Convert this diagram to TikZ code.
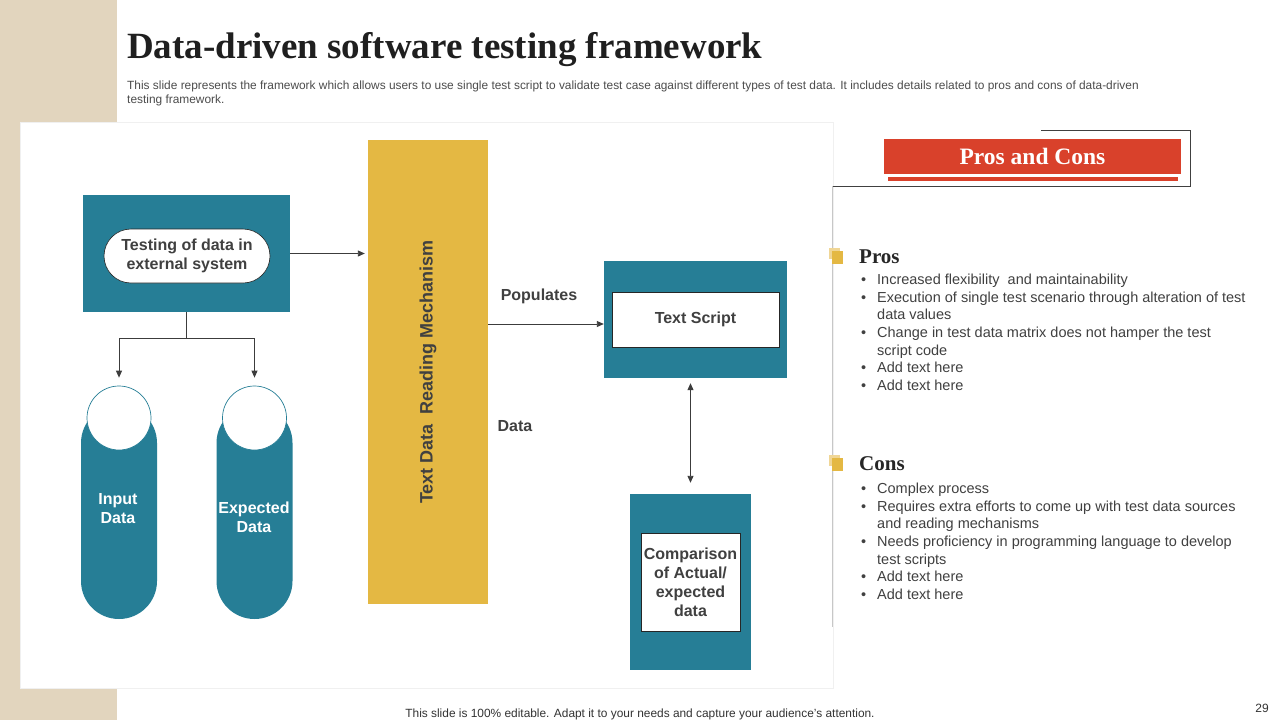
\documentclass[tikz,border=0pt]{standalone}
\usepackage{fontspec}
\setmainfont{Liberation Sans}
\newfontfamily\slideserif{Liberation Serif}
\usetikzlibrary{positioning,arrows.meta}

\definecolor{tealbox}{RGB}{38,126,150}
\definecolor{bargold}{RGB}{228,184,67}
\definecolor{iconlight}{RGB}{240,214,150}
\definecolor{redbar}{RGB}{217,65,43}
\definecolor{beige}{RGB}{226,213,190}
\definecolor{txt}{RGB}{64,64,64}
\definecolor{arr}{RGB}{60,60,60}

\newcommand\bitem[1]{\makebox[16pt][l]{\textbullet}#1}
\newcommand\bcont[1]{\hspace*{16pt}#1}

\begin{document}
\begin{tikzpicture}[x=1pt, y=-1pt,
      every node/.style={font=\fontsize{16}{19}\selectfont\bfseries, text=txt, align=center},
      tbox/.style={fill=tealbox, inner sep=0pt},
      wbox/.style={draw=black!85, fill=white, inner sep=0pt, line width=0.6pt},
      pill/.style={wbox, rounded corners=27pt},
      tpill/.style={fill=tealbox, inner sep=0pt, rounded corners=38pt,
                    minimum width=76, minimum height=214},
      datacap/.style={circle, draw=tealbox, fill=white, line width=0.7pt, minimum size=64, inner sep=0pt},
      arrow/.style={-{Triangle[length=7pt,width=6pt]}, draw=arr, line width=0.9pt},
      dblarrow/.style={{Triangle[length=7pt,width=6pt]}-{Triangle[length=7pt,width=6pt]}, draw=arr, line width=0.9pt},
      heading/.style={font=\slideserif\fontsize{21}{24}\selectfont\bfseries, text=black!85, anchor=west, inner sep=0pt},
      bullets/.style={font=\fontsize{14.5}{17.6}\selectfont, text=txt, align=left, anchor=north west, inner sep=0pt},
      smalltxt/.style={font=\fontsize{11.9}{14}\selectfont, text=black!70, align=left, inner sep=0pt},
  ]
    \useasboundingbox (0,0) rectangle (1280,720);
    \fill[white] (0,0) rectangle (1280,720);

    % Slide background
    \fill[beige] (0,0) rectangle (117,720);
    \filldraw[fill=white, draw=black!6] (20,122) rectangle (833,688);

    % Title and note
    \node[font=\slideserif\fontsize{37}{42}\selectfont\bfseries, text=black!88, anchor=west, inner sep=0pt]
      (title) at (127,50) {Data-driven software testing framework};
    \node[smalltxt, anchor=north west] (intro) at (127,81)
      {This slide represents the framework which allows users to use single test script to validate test case against different types of test data. It includes details related to pros and cons of data-driven\\testing framework.};

    % Column 1: external system and data
    \node[tbox, minimum width=207, minimum height=117] (extbox) at (186.5,253.5) {};
    \node[pill, minimum width=166, minimum height=54] (ext) at (187,256) {Testing of data in\\external system};

    \node[tpill] (inpill) at (119,512) {};
    \node[datacap] (incap) at (119,418) {};
    \node[text=white] (inlbl) at (118,509) {Input\\Data};

    \node[tpill] (exppill) at (254.5,512) {};
    \node[datacap] (expcap) at (254.5,418) {};
    \node[text=white] (explbl) at (254,517) {Expected\\Data};

    \draw[arr, line width=0.9pt] (extbox.south) -- ++(0,26) coordinate (split);
    \draw[arrow, shorten >=8pt] (split) -| (incap.north);
    \draw[arrow, shorten >=8pt] (split) -| (expcap.north);

    % Column 2: reading mechanism
    \node[fill=bargold, inner sep=0pt, minimum width=120, minimum height=464] (tdr) at (428,372) {};
    \node[rotate=90, font=\fontsize{18}{21}\selectfont\bfseries] (tdrlbl) at (tdr) {Text Data\ \ Reading Mechanism};
    \draw[arrow, shorten >=3pt] (extbox.east) -- (extbox.east -| tdr.west);

    \node (poplbl) at (539,296) {Populates};
    \node (datalbl) at (515,426) {Data};

    % Column 3: script and comparison
    \node[tbox, minimum width=183, minimum height=117] (scriptbox) at (695.5,319.5) {};
    \node[wbox, minimum width=167, minimum height=55] (script) at (695.5,319.5) {Text Script};
    \draw[arrow] (tdr.east |- 0,324) -- (scriptbox.west |- 0,324);

    \node[tbox, minimum width=121, minimum height=176] (cmpbox) at (690.5,582) {};
    \node[wbox, minimum width=99, minimum height=98] (cmp) at (690.5,582) {Comparison\\of Actual/\\expected\\data};
    \draw[dblarrow, shorten <=5pt, shorten >=11pt] (cmpbox.north |- scriptbox.south) -- (cmpbox.north);

    % Pros and cons
    \draw[black!75, line width=0.8pt] (1041,130) -| (1190,186) -- (832,186);
    \draw[black!22, line width=0.8pt] (832,186) -- (832,627);
    \node[fill=redbar, inner sep=0pt, minimum width=297, minimum height=35, text=white,
          font=\slideserif\fontsize{23.5}{26}\selectfont\bfseries] (hdr) at (1032.5,156.5) {Pros and Cons};
    \node[fill=redbar, inner sep=0pt, minimum width=290, minimum height=4, below=3pt of hdr] (hdrline) {};

    \fill[iconlight] (829,248) rectangle (840,259);
    \fill[bargold] (832,251) rectangle (843,264);
    \node[heading] (pros) at (859,257) {Pros};
    \node[bullets] (proslist) at (861,274) {%
      \bitem{Increased flexibility \ and maintainability}\\
      \bitem{Execution of single test scenario through alteration of test}\\
      \bcont{data values}\\
      \bitem{Change in test data matrix does not hamper the test}\\
      \bcont{script code}\\
      \bitem{Add text here}\\
      \bitem{Add text here}};

    \fill[iconlight] (829,455) rectangle (840,466);
    \fill[bargold] (832,458) rectangle (843,471);
    \node[heading] (cons) at (859,464) {Cons};
    \node[bullets] (conslist) at (861,483) {%
      \bitem{Complex process}\\
      \bitem{Requires extra efforts to come up with test data sources}\\
      \bcont{and reading mechanisms}\\
      \bitem{Needs proficiency in programming language to develop}\\
      \bcont{test scripts}\\
      \bitem{Add text here}\\
      \bitem{Add text here}};

    % Footer
    \node[smalltxt, text=black!80] (foot) at (640,714) {This slide is 100\% editable. Adapt it to your needs and capture your audience's attention.};
    \node[smalltxt, font=\fontsize{12}{14}\selectfont, text=black!80] (pgno) at (1262,708) {29};
  \end{tikzpicture}
\end{document}
